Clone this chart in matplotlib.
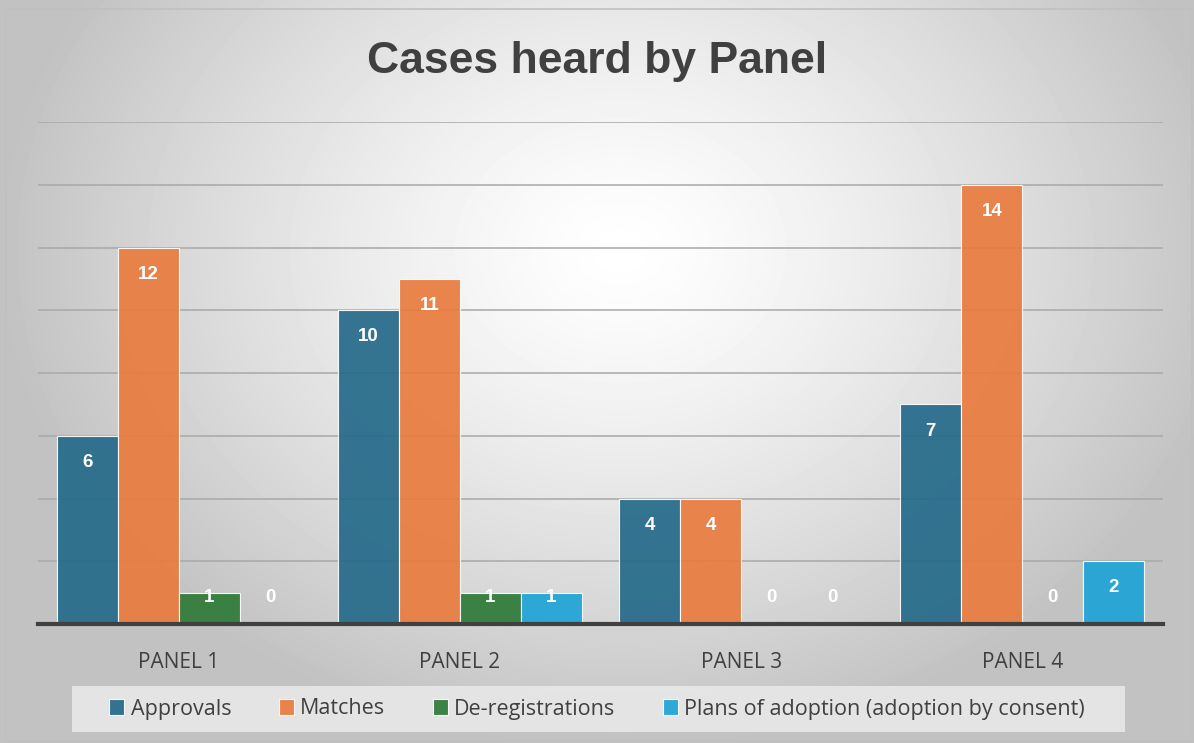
import numpy as np
import matplotlib
matplotlib.use("Agg")
import matplotlib.pyplot as plt
from matplotlib.patches import Rectangle

panels = ["PANEL 1", "PANEL 2", "PANEL 3", "PANEL 4"]
series_names = ["Approvals", "Matches", "De-registrations",
                "Plans of adoption (adoption by consent)"]
approvals = [6, 10, 4, 7]
matches = [12, 11, 4, 14]
deregistrations = [1, 1, 0, 0]
plans = [0, 1, 0, 2]
colors = ["#246a8a", "#e97b3f", "#2f7a38", "#1ea3d6"]

plt.rcParams["font.family"] = ["Open Sans", "DejaVu Sans"]

fig = plt.figure(figsize=(11.94, 7.43), dpi=100)

# radial gradient background
bg = fig.add_axes([0, 0, 1, 1])
yy, xx = np.mgrid[0:743, 0:1194]
r = np.sqrt(((xx - 620) / 700.0) ** 2 + ((yy - 250) / 560.0) ** 2)
shade = np.clip(1.0 - 0.28 * r ** 1.3, 0.76, 1.0)
bg.imshow(shade, cmap="gray", vmin=0, vmax=1, aspect="auto",
          extent=[0, 1194, 743, 0])
bg.set_xlim(0, 1194)
bg.set_ylim(743, 0)
bg.add_patch(Rectangle((6, 9), 1186, 732, fill=False, ec="#c0c0c0", lw=1.2))
# legend panel
bg.add_patch(Rectangle((72, 686), 1053, 46, fc="#e8e8e8", ec="none", alpha=0.9))
bg.axis("off")

ax = fig.add_axes([38 / 1194, 119 / 743, 1125 / 1194, 502 / 743])
ax.patch.set_alpha(0)

x = np.arange(len(panels))
w = 0.217
all_series = [approvals, matches, deregistrations, plans]
for i, vals in enumerate(all_series):
    pos = x + (i - 1.5) * w
    ax.bar(pos, vals, width=w, color=colors[i], alpha=0.92,
           edgecolor="white", linewidth=0.8, zorder=3, label=series_names[i])
    for px, v in zip(pos, vals):
        ax.text(px, max(v - 0.85, 0.83), str(v), ha="center", va="center",
                color="white", fontsize=13.5, fontweight="bold", zorder=4,
                family=["Liberation Sans", "DejaVu Sans"])

ax.set_xlim(-0.5, 3.5)
ax.set_ylim(0, 16)
ax.set_yticks(np.arange(2, 17, 2))
ax.yaxis.grid(True, color="#a8a8a8", linewidth=1.1, zorder=1)
ax.tick_params(axis="y", left=False, labelleft=False)
ax.tick_params(axis="x", bottom=False, labelsize=15, labelcolor="#404040", pad=17)
ax.set_xticks(x)
ax.set_xticklabels(panels)
for s in ["top", "right", "left"]:
    ax.spines[s].set_visible(False)
ax.spines["bottom"].set_color("#404040")
ax.spines["bottom"].set_linewidth(3)
ax.spines["bottom"].set_zorder(5)

fig.text(0.5, 1 - 62 / 743, "Cases heard by Panel", ha="center", va="center",
         fontsize=32, fontweight="bold", color="#404040",
         family=["Liberation Sans", "DejaVu Sans"])

leg = fig.legend(loc="center", bbox_to_anchor=(0.5, 1 - 709 / 743), ncol=4,
                 frameon=False, fontsize=15.5, handlelength=0.7, handleheight=0.7,
                 handletextpad=0.3, columnspacing=2.2, borderpad=0.6,
                 borderaxespad=0, labelcolor="#404040")

fig.savefig("out.png", dpi=100)
